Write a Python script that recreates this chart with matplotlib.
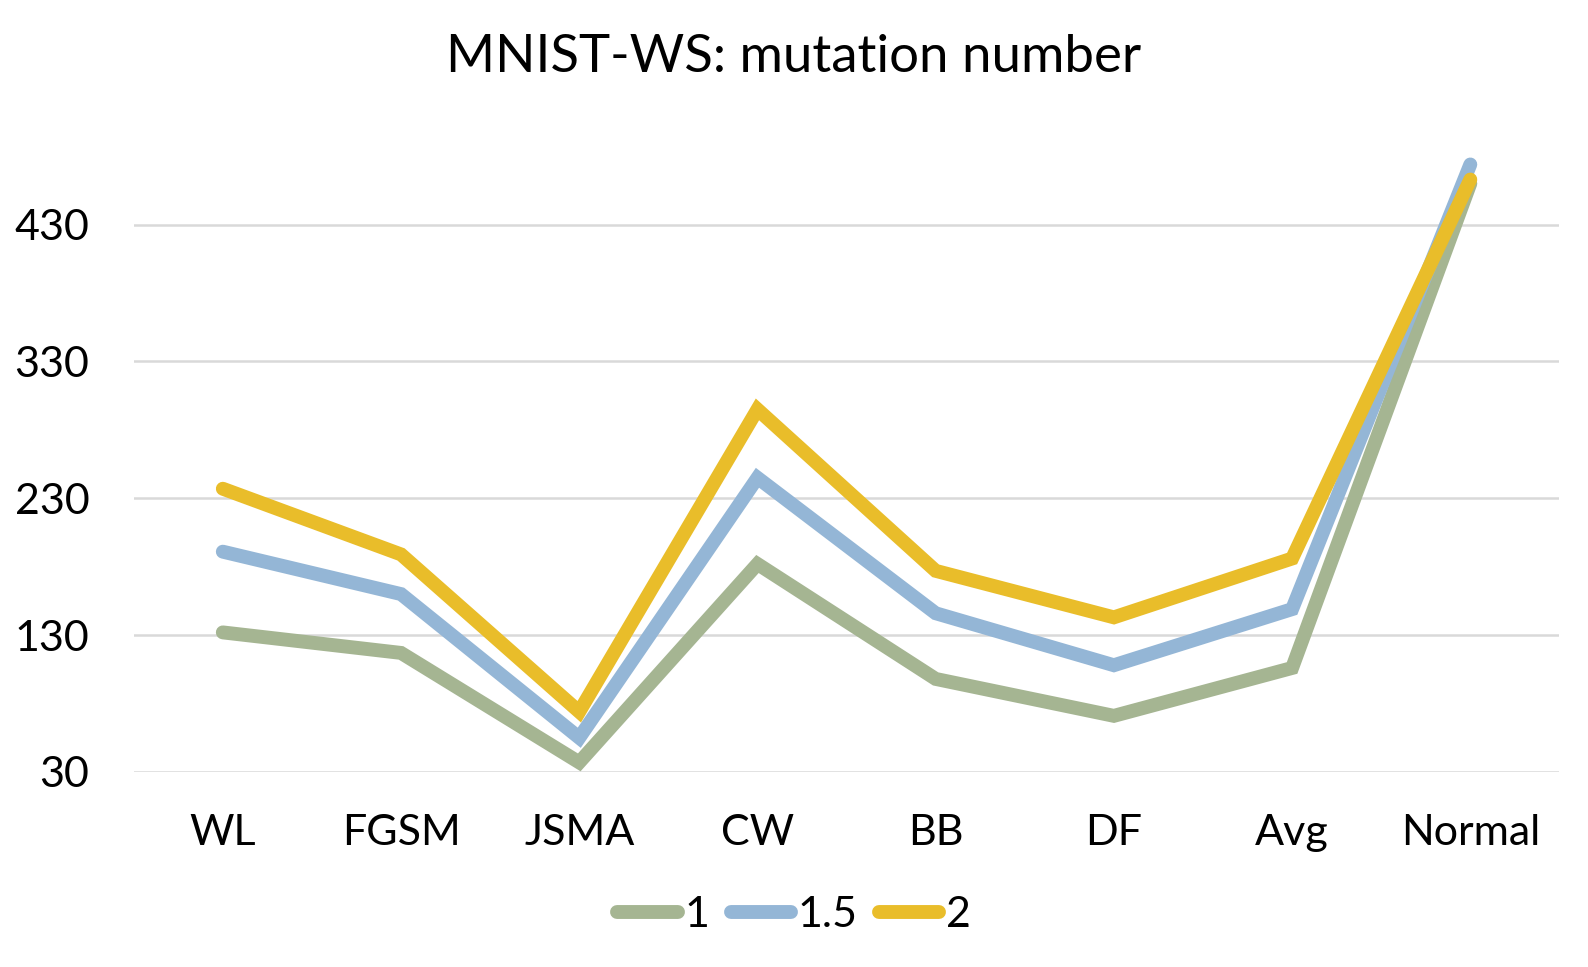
import numpy as np
import matplotlib
matplotlib.use('Agg')
import matplotlib.pyplot as plt

plt.rcParams['font.family'] = ['Lato', 'DejaVu Sans']

# Data
categories = ['WL', 'FGSM', 'JSMA', 'CW', 'BB', 'DF', 'Avg', 'Normal']
series_names = ['1', '1.5', '2']
values_1 = [132, 117, 37, 182, 98, 71, 106, 460]
values_15 = [191, 160, 55, 245, 146, 108, 149, 474]
values_2 = [237, 189, 74, 295, 177, 143, 186, 463]
yticks = [30, 130, 230, 330, 430]

colors = ['#A5B592', '#94B6D6', '#E9BD2A']

fig = plt.figure(figsize=(15.88, 9.67), dpi=100)
ax = fig.add_axes([0.0842, 0.2017, 0.8978, 0.665])

x = np.arange(len(categories))
for vals, name, c in zip([values_1, values_15, values_2], series_names, colors):
    ax.plot(x, vals, color=c, lw=10, solid_capstyle='round',
            solid_joinstyle='miter', label=name, clip_on=False, zorder=3)

ax.set_xlim(-0.5, len(categories) - 0.5)
ax.set_ylim(30, 500)
ax.set_yticks(yticks)
ax.set_xticks(x)
ax.set_xticklabels(categories)
ax.tick_params(axis='both', length=0, labelsize=31)
ax.tick_params(axis='y', pad=32)
ax.tick_params(axis='x', pad=30)
ax.grid(axis='y', color='#D9D9D9', lw=1.8, zorder=0)
ax.set_axisbelow(True)
for s in ax.spines.values():
    s.set_visible(False)

fig.suptitle('MNIST-WS: mutation number', fontsize=38, y=0.965)

fig.legend(loc='center', bbox_to_anchor=(0.5, 0.054), ncol=3, frameon=False,
           fontsize=31, handlelength=1.4, handletextpad=0.15, columnspacing=0.5)

fig.savefig('out.png', dpi=100)
